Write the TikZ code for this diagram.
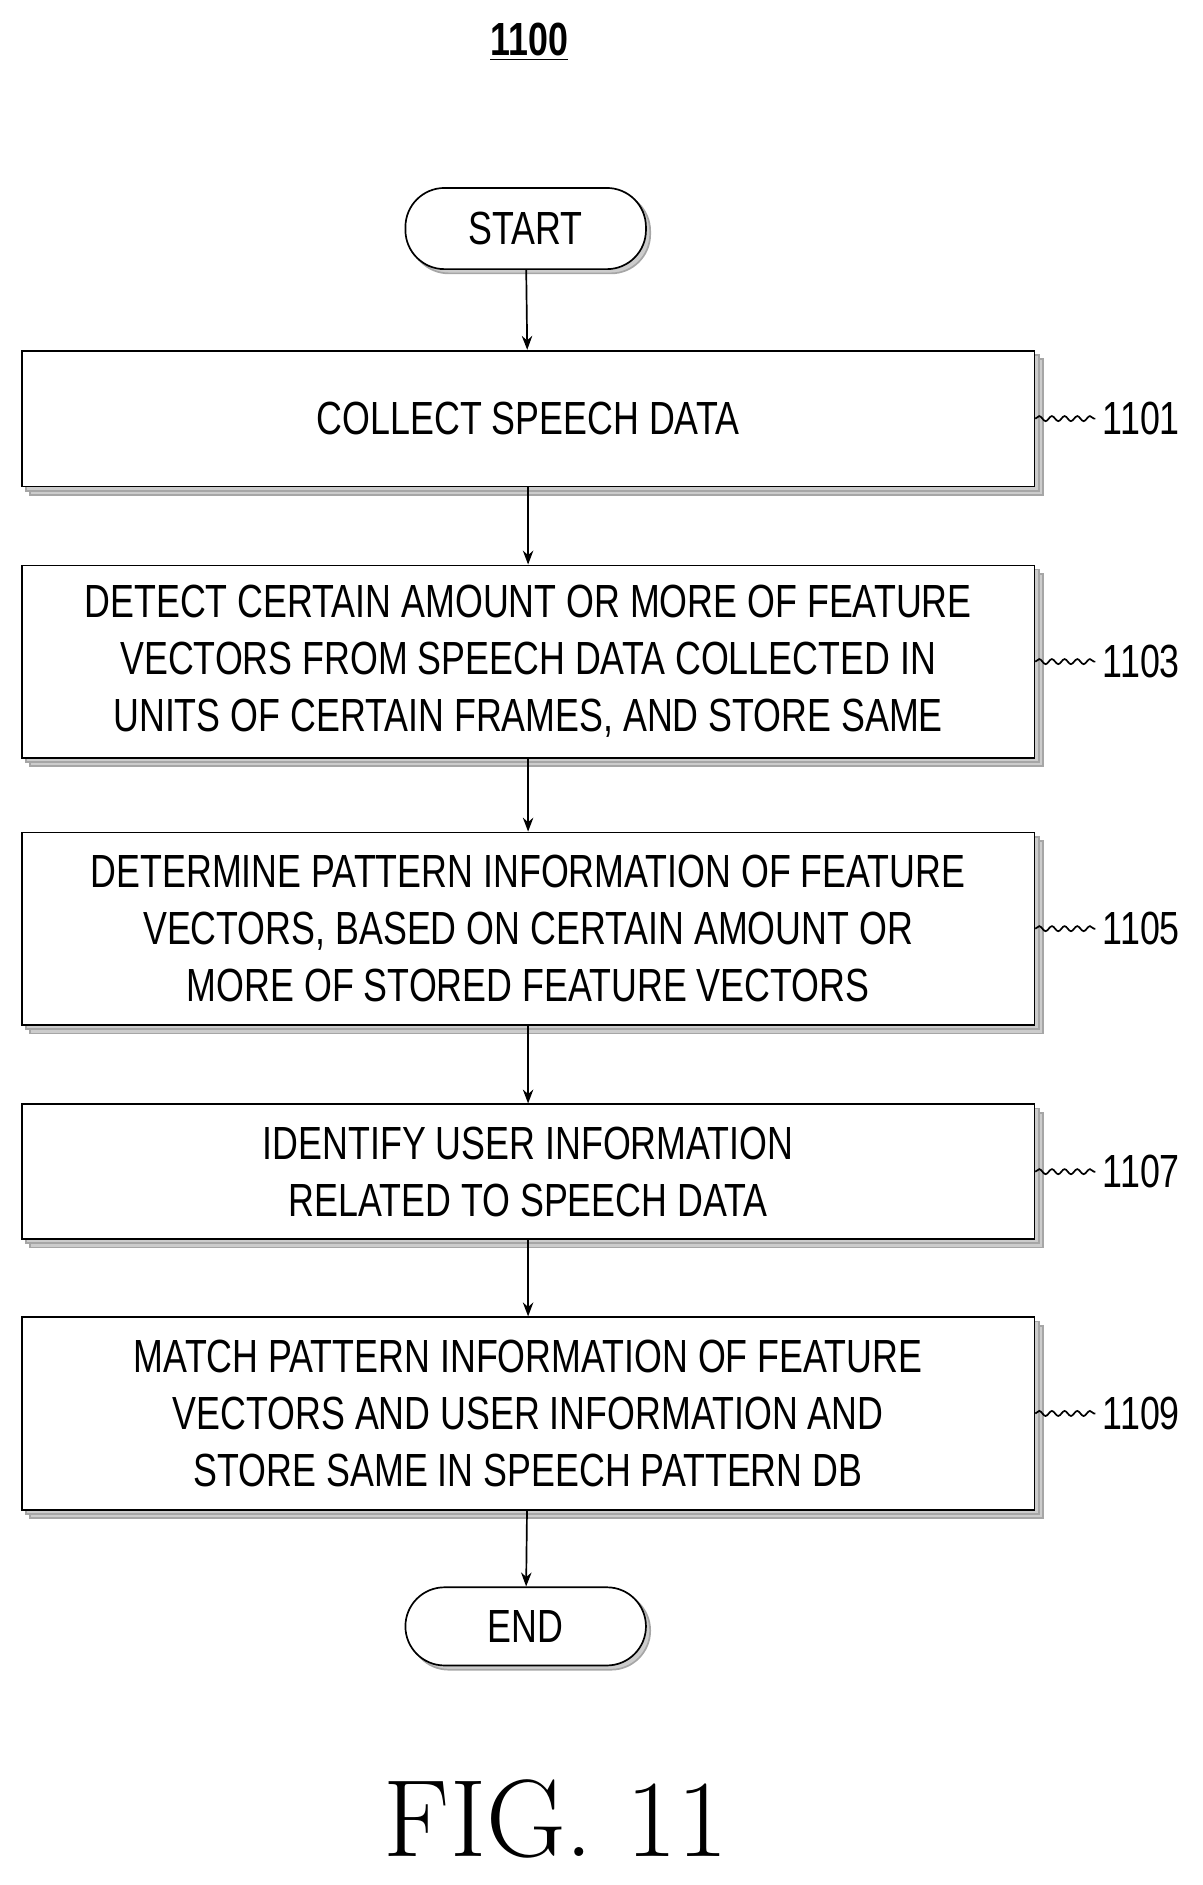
\documentclass[tikz,border=0pt]{standalone}
\usepackage{fontspec}
\setsansfont{Liberation Sans}[FakeStretch=0.77]
\usetikzlibrary{positioning,decorations.pathmorphing,arrows.meta,shadows}
\begin{document}
\begin{tikzpicture}[x=0.02cm,y=-0.02cm,
    stepbox/.style = {draw,thick,fill=white,minimum width=16.84cm,align=center,
        font=\sffamily\fontsize{22}{27}\selectfont,
        double copy shadow={shadow xshift=2pt,shadow yshift=-2pt,draw=gray!70,fill=gray!40}},
    term/.style = {draw,thick,fill=white,rounded corners=0.65cm,minimum width=4cm,
        minimum height=1.35cm,font=\sffamily\fontsize{22}{27}\selectfont,
        copy shadow={shadow xshift=2pt,shadow yshift=-2pt,draw=gray!70,fill=gray!40}},
    refnum/.style = {font=\sffamily\fontsize{22}{27}\selectfont,anchor=west},
    squig/.style = {decorate,decoration={snake,amplitude=1.2pt,segment length=6pt}},
    arrow/.style = {thick,-Stealth}]
\useasboundingbox (0,0) rectangle (1000,1567);

\node[font=\sffamily\bfseries\fontsize{22}{27}\selectfont] (title) at (440,35) {\underline{1100}};

\node[term] (start) at (437,190) {START};
\node[stepbox,minimum height=2.26cm] (s1101) at (439,348) {COLLECT SPEECH DATA};
\node[stepbox,minimum height=3.2cm] (s1103) at (439,550)
    {DETECT CERTAIN AMOUNT OR MORE OF FEATURE\\VECTORS FROM SPEECH DATA COLLECTED IN\\UNITS OF CERTAIN FRAMES, AND STORE SAME};
\node[stepbox,minimum height=3.2cm] (s1105) at (439,772)
    {DETERMINE PATTERN INFORMATION OF FEATURE\\VECTORS, BASED ON CERTAIN AMOUNT OR\\MORE OF STORED FEATURE VECTORS};
\node[stepbox,minimum height=2.24cm] (s1107) at (439,974)
    {IDENTIFY USER INFORMATION\\RELATED TO SPEECH DATA};
\node[stepbox,minimum height=3.2cm] (s1109) at (439,1175)
    {MATCH PATTERN INFORMATION OF FEATURE\\VECTORS AND USER INFORMATION AND\\STORE SAME IN SPEECH PATTERN DB};
\node[term,minimum height=1.3cm] (end) at (437,1352) {END};

% step numbers
\foreach \s in {1101,1103,1105,1107,1109}{
    \node[refnum] (n\s) at ([xshift=1cm]s\s.east) {\s};
    \draw[thick,squig] (s\s.east) -- (n\s.west);
}

% flow
\draw[arrow] (start) -- (s1101);
\draw[arrow] (s1101) -- (s1103);
\draw[arrow] (s1103) -- (s1105);
\draw[arrow] (s1105) -- (s1107);
\draw[arrow] (s1107) -- (s1109);
\draw[arrow] (s1109) -- (end);

\node[font=\fontsize{52}{60}\selectfont] (fig) at (462,1512) {FIG. 11};
\end{tikzpicture}
\end{document}
